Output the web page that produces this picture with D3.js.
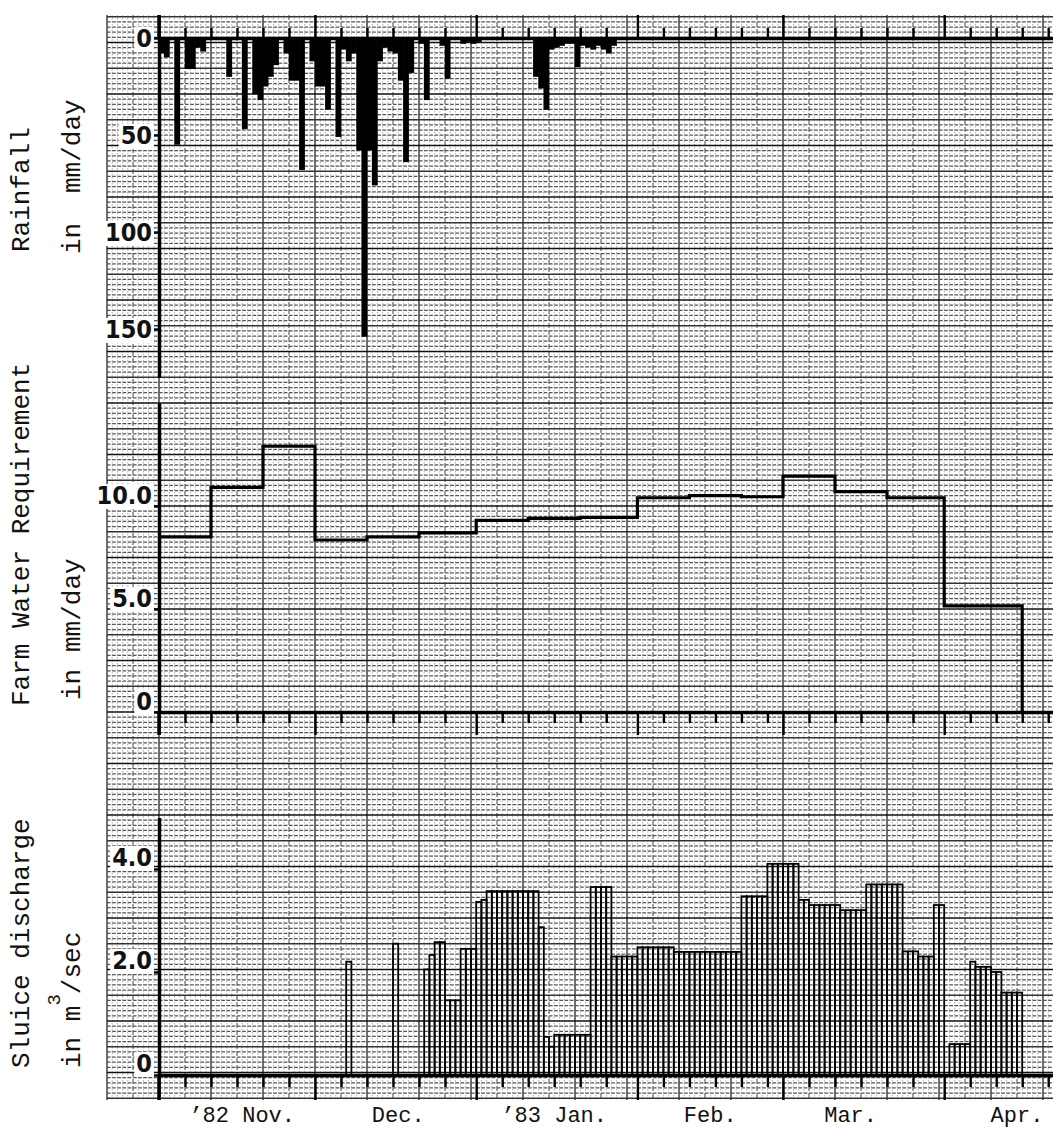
<!DOCTYPE html>
<html>
<head>
<meta charset="utf-8">
<script src="https://cdn.jsdelivr.net/npm/d3@7"></script>
<style>
body { margin: 0; background: #fff; }
svg { display: block; }
.title { font-family: "Liberation Mono", "Courier New", monospace; font-size: 26px; fill: #111; }
.month { font-family: "Liberation Mono", "Courier New", monospace; font-size: 22px; fill: #111; }
.tick-label { font-family: "Liberation Sans Narrow", "DejaVu Sans Condensed", "Liberation Sans", sans-serif; font-size: 25px; font-weight: bold; fill: #111; }
</style>
</head>
<body>
<div id="plot"></div>
<script>
var W = 1053, H = 1132;

// daily rainfall, mm/day (bars hang down from the top axis)
var rainDates = ["1982-11-01","1982-11-02","1982-11-04","1982-11-06","1982-11-07","1982-11-08","1982-11-09",
  "1982-11-14","1982-11-17","1982-11-19","1982-11-20","1982-11-21","1982-11-22","1982-11-23","1982-11-25",
  "1982-11-26","1982-11-27","1982-11-28","1982-11-30","1982-12-01","1982-12-02","1982-12-03","1982-12-05",
  "1982-12-06","1982-12-07","1982-12-08","1982-12-09","1982-12-10","1982-12-11","1982-12-12","1982-12-13",
  "1982-12-14","1982-12-15","1982-12-16","1982-12-17","1982-12-18","1982-12-19","1982-12-21","1982-12-22",
  "1982-12-25","1982-12-26","1982-12-29","1982-12-30","1982-12-31","1983-01-01","1983-01-12","1983-01-13",
  "1983-01-14","1983-01-15","1983-01-16","1983-01-17","1983-01-18","1983-01-19","1983-01-20","1983-01-21",
  "1983-01-22","1983-01-23","1983-01-24","1983-01-25","1983-01-26","1983-01-27"];
var rainMm = [8,10,55,16,16,5,7,
  20,47,29,32,25,20,14,8,
  22,22,68,12,25,25,37,51,
  6,12,8,58,154,58,76,12,
  5,7,8,22,64,18,3,32,
  4,21,3,2,3,2,20,26,
  37,6,5,4,3,3,15,4,
  5,6,4,6,8,4];

// farm water requirement, mm/day, value holds from each date on
var farmDates = ["1982-11-01","1982-11-11","1982-11-21","1982-12-01","1982-12-11","1982-12-21",
  "1983-01-01","1983-01-11","1983-01-21","1983-02-01","1983-02-11","1983-02-21",
  "1983-03-01","1983-03-11","1983-03-21","1983-04-01","1983-04-16"];
var farmValues = [8.5,10.9,12.9,8.35,8.5,8.7,
  9.3,9.4,9.45,10.4,10.5,10.45,
  11.45,10.7,10.4,5.15,0];

// sluice discharge, m3/sec, daily
var sluiceDates = ["1982-12-07","1982-12-16","1982-12-22","1982-12-23","1982-12-24","1982-12-25",
  "1982-12-26","1982-12-27","1982-12-28","1982-12-29","1982-12-30","1982-12-31",
  "1983-01-01","1983-01-02","1983-01-03","1983-01-04","1983-01-05","1983-01-06","1983-01-07","1983-01-08",
  "1983-01-09","1983-01-10","1983-01-11","1983-01-12","1983-01-13","1983-01-14","1983-01-15","1983-01-16",
  "1983-01-17","1983-01-18","1983-01-19","1983-01-20","1983-01-21","1983-01-22","1983-01-23","1983-01-24",
  "1983-01-25","1983-01-26","1983-01-27","1983-01-28","1983-01-29","1983-01-30","1983-01-31",
  "1983-02-01","1983-02-02","1983-02-03","1983-02-04","1983-02-05","1983-02-06","1983-02-07",
  "1983-02-08","1983-02-09","1983-02-10","1983-02-11","1983-02-12","1983-02-13","1983-02-14","1983-02-15",
  "1983-02-16","1983-02-17","1983-02-18","1983-02-19","1983-02-20","1983-02-21","1983-02-22","1983-02-23",
  "1983-02-24","1983-02-25","1983-02-26","1983-02-27","1983-02-28",
  "1983-03-01","1983-03-02","1983-03-03","1983-03-04","1983-03-05","1983-03-06","1983-03-07","1983-03-08",
  "1983-03-09","1983-03-10","1983-03-11","1983-03-12","1983-03-13","1983-03-14","1983-03-15","1983-03-16",
  "1983-03-17","1983-03-18","1983-03-19","1983-03-20","1983-03-21","1983-03-22","1983-03-23","1983-03-24",
  "1983-03-25","1983-03-26","1983-03-27","1983-03-28","1983-03-29","1983-03-30","1983-03-31",
  "1983-04-02","1983-04-03","1983-04-04","1983-04-05","1983-04-06","1983-04-07","1983-04-08","1983-04-09",
  "1983-04-10","1983-04-11","1983-04-12","1983-04-13","1983-04-14","1983-04-15"];
var sluiceValues = [2.2,2.55,2.05,2.33,2.58,2.58,
  1.45,1.45,1.45,2.45,2.45,2.45,
  3.36,3.4,3.57,3.57,3.57,3.57,3.57,3.57,
  3.57,3.57,3.57,3.57,2.87,0.74,0.55,0.78,
  0.78,0.78,0.78,0.78,0.78,0.78,3.65,3.65,
  3.65,3.65,2.3,2.3,2.3,2.3,2.3,
  2.48,2.48,2.48,2.48,2.48,2.48,2.48,
  2.39,2.39,2.39,2.39,2.39,2.39,2.39,2.39,
  2.39,2.39,2.39,2.39,2.39,3.47,3.47,3.47,
  3.47,3.47,4.1,4.1,4.1,
  4.1,4.1,4.1,3.4,3.4,3.3,3.3,3.3,
  3.3,3.3,3.3,3.2,3.2,3.2,3.2,3.2,
  3.7,3.7,3.7,3.7,3.7,3.7,3.7,2.4,
  2.4,2.4,2.3,2.3,2.3,3.3,3.3,
  0.6,0.6,0.6,0.6,2.2,2.1,2.1,2.1,
  2.0,2.0,1.6,1.6,1.6,1.6];

var rainTicks = [0, 50, 100, 150];
var rainTickLabels = ["0", "50", "100", "150"];
var farmTicks = [0, 5, 10];
var farmTickLabels = ["0", "5.0", "10.0"];
var sluiceTicks = [0, 2, 4];
var sluiceTickLabels = ["0", "2.0", "4.0"];
var monthLabels = ["\u201982 Nov.", "Dec.", "\u201983 Jan.", "Feb.", "Mar.", "Apr."];
var monthLabelDates = ["1982-11-17", "1982-12-17", "1983-01-16", "1983-02-15", "1983-03-14", "1983-04-15"];

var parseDate = d3.timeParse("%Y-%m-%d");
var start = parseDate("1982-11-01"), end = parseDate("1983-04-22");

var x = d3.scaleTime().domain([start, end]).range([159, 1053.4]);
var yRain = d3.scaleLinear().domain([0, 175]).range([38, 377.5]);
var yFarm = d3.scaleLinear().domain([0, 15]).range([712, 403]);
var ySluice = d3.scaleLinear().domain([0, 5]).range([1075, 817.5]);

function nextDay(d) { return d3.timeDay.offset(d, 1); }

var svg = d3.select("#plot").append("svg")
  .attr("width", W).attr("height", H);

svg.append("rect").attr("width", W).attr("height", H).attr("fill", "#fff");

// graph paper
var paper = svg.append("g");
var paperTop = 15, paperBottom = 1100, paperLeft = 107;

var gridDays = d3.timeDay.range(d3.timeDay.offset(start, -10), end);
gridDays.forEach(function(d, i) {
  var k = i - 10, gx = x(d);
  var line = paper.append("line")
    .attr("x1", gx).attr("x2", gx).attr("y1", paperTop).attr("y2", paperBottom);
  if (k % 10 === 0) line.attr("stroke", "#222").attr("stroke-width", 1.3);
  else if (k % 5 === 0) line.attr("stroke", "#555").attr("stroke-width", 1.1).attr("stroke-dasharray", "5,2");
  else line.attr("stroke", "#999").attr("stroke-width", 0.8).attr("stroke-dasharray", "1.5,1.5");
});

for (var k = -75; k <= 135; k++) {
  var gy = yFarm(k * 0.25);
  if (gy < paperTop || gy > paperBottom) continue;
  var hl = paper.append("line")
    .attr("x1", paperLeft).attr("x2", W).attr("y1", gy).attr("y2", gy);
  if (k % 10 === 0) hl.attr("stroke", "#111").attr("stroke-width", 1.5);
  else if (k % 5 === 0) hl.attr("stroke", "#333").attr("stroke-width", 1.3);
  else hl.attr("stroke", "#555").attr("stroke-width", 1.2).attr("stroke-dasharray", "3.6,1.6");
}

// rainfall bars
svg.append("g")
  .selectAll("rect")
  .data(rainDates.map(function(d, i) { return {date: parseDate(d), v: rainMm[i]}; }))
  .enter()
  .append("rect")
  .attr("x", function(d) { return x(d.date) - 0.3; })
  .attr("width", function(d) { return x(nextDay(d.date)) - x(d.date) + 0.6; })
  .attr("y", yRain(0))
  .attr("height", function(d) { return yRain(d.v) - yRain(0); })
  .attr("fill", "#000");

// farm water requirement step line
var farmLine = d3.line()
  .x(function(d) { return x(d.date); })
  .y(function(d) { return yFarm(d.v); })
  .curve(d3.curveStepAfter);

svg.append("path")
  .datum(farmDates.map(function(d, i) { return {date: parseDate(d), v: farmValues[i]}; }))
  .attr("d", farmLine)
  .attr("fill", "none")
  .attr("stroke", "#000")
  .attr("stroke-width", 3.2);

// sluice discharge bars
svg.append("g")
  .selectAll("rect")
  .data(sluiceDates.map(function(d, i) { return {date: parseDate(d), v: sluiceValues[i]}; }))
  .enter()
  .append("rect")
  .attr("x", function(d) { return x(d.date); })
  .attr("width", function(d) { return x(nextDay(d.date)) - x(d.date); })
  .attr("y", function(d) { return ySluice(d.v); })
  .attr("height", function(d) { return ySluice(0) - ySluice(d.v); })
  .attr("fill", "none")
  .attr("stroke", "#000")
  .attr("stroke-width", 1.8);

// axes
var fiveDay = d3.timeDay.range(start, end).filter(function(d) {
  return [6, 11, 16, 21, 26].indexOf(d.getDate()) >= 0;
});
var monthStarts = d3.timeMonth.range(start, end);

function styleAxis(g, domainWidth) {
  g.selectAll(".domain").attr("stroke", "#000").attr("stroke-width", domainWidth);
  g.selectAll(".tick line").attr("stroke", "#000").attr("stroke-width", 2.4);
  g.selectAll(".tick text").remove();
}

function timeAxis(axisFn, yPos, minor, major) {
  svg.append("g")
    .attr("transform", "translate(0," + yPos + ")")
    .call(axisFn(x).tickValues(fiveDay).tickSize(minor).tickSizeOuter(0).tickFormat(""))
    .call(styleAxis, 3.5);
  svg.append("g")
    .attr("transform", "translate(0," + yPos + ")")
    .call(axisFn(x).tickValues(monthStarts).tickSize(major).tickSizeOuter(0).tickFormat(""))
    .call(styleAxis, 3.5)
    .call(function(g) { g.select(".domain").remove(); });
}

timeAxis(d3.axisTop, yRain(0), 10, 23);
timeAxis(d3.axisBottom, yFarm(0), 11, 23);
timeAxis(d3.axisBottom, ySluice(0), 12, 25);

function valueAxis(scale, ticks, y1, y2) {
  svg.append("line")
    .attr("x1", x(start)).attr("x2", x(start))
    .attr("y1", y1).attr("y2", y2)
    .attr("stroke", "#000").attr("stroke-width", 3.5);
  svg.append("g")
    .attr("transform", "translate(" + x(start) + ",0)")
    .call(d3.axisLeft(scale).tickValues(ticks).tickSize(6).tickSizeOuter(0).tickFormat(""))
    .call(styleAxis, 3.5);
}

valueAxis(yRain, rainTicks, paperTop, yRain(0));
valueAxis(yFarm, farmTicks, yFarm(0), 735);
valueAxis(ySluice, sluiceTicks, ySluice(0), paperBottom);

// tick labels on white patches
function tickLabels(scale, ticks, labels, dy) {
  ticks.forEach(function(t, i) {
    var g = svg.append("g");
    var r = g.append("rect").attr("fill", "#fff");
    var txt = g.append("text")
      .attr("class", "tick-label")
      .attr("x", 152)
      .attr("y", scale(t) + dy)
      .attr("text-anchor", "end")
      .text(labels[i]);
    var b = txt.node().getBBox();
    r.attr("x", b.x - 2).attr("y", b.y + 3).attr("width", b.width + 4).attr("height", b.height - 4);
  });
}

tickLabels(yRain, rainTicks, rainTickLabels, 9);
tickLabels(yFarm, farmTicks, farmTickLabels, -2);
tickLabels(ySluice, sluiceTicks, sluiceTickLabels, -3);

// month labels
svg.append("g")
  .selectAll("text")
  .data(monthLabels)
  .enter()
  .append("text")
  .attr("class", "month")
  .attr("x", function(d, i) { return x(parseDate(monthLabelDates[i])); })
  .attr("y", 1122)
  .attr("text-anchor", "middle")
  .text(function(d) { return d; });

// rotated axis titles
function vText(str, xb, yb) {
  return svg.append("text")
    .attr("class", "title")
    .attr("transform", "translate(" + xb + "," + yb + ") rotate(-90)")
    .attr("text-anchor", "start")
    .text(str);
}

vText("Rainfall", 29, 252);
vText("in", 80, 254);
vText("mm/day", 80, 193);

vText("Farm Water Requirement", 29, 706);
vText("in", 80, 700);
vText("mm/day", 80, 652);

vText("Sluice discharge", 29, 1068);
var unit = vText("in m", 80, 1068);
unit.append("tspan").attr("dy", -20).style("font-size", "19px").text("3");
unit.append("tspan").attr("dy", 20).text("/sec");
</script>
</body>
</html>
